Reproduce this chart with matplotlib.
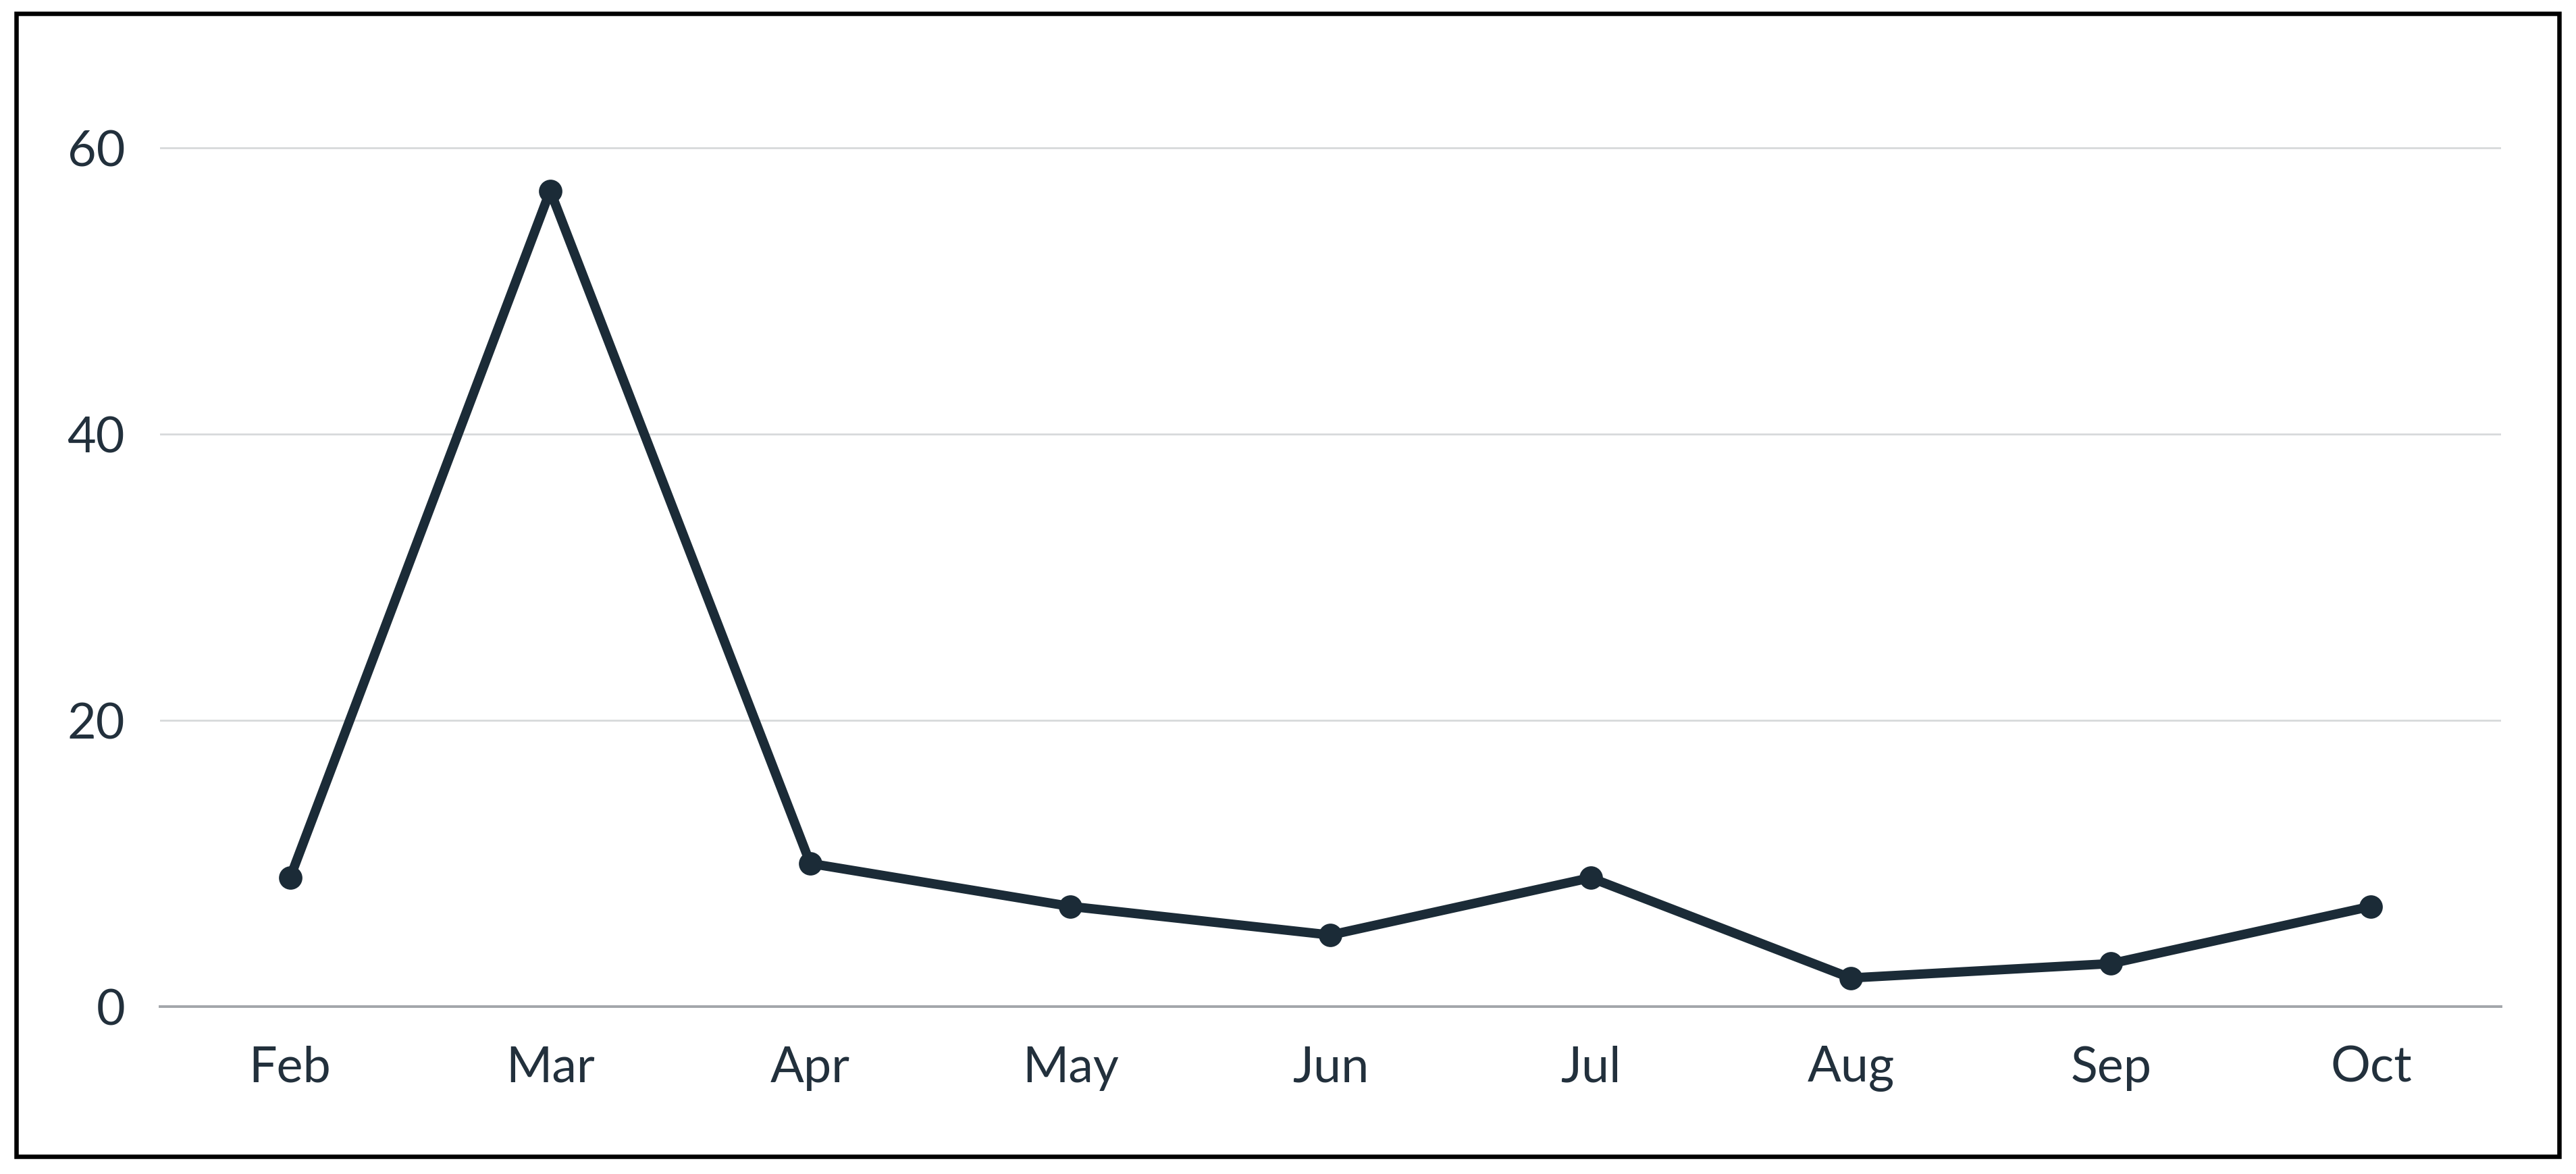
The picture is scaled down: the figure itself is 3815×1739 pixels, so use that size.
import matplotlib
matplotlib.use('Agg')
import matplotlib.pyplot as plt
import matplotlib.patches as patches

months = ['Feb', 'Mar', 'Apr', 'May', 'Jun', 'Jul', 'Aug', 'Sep', 'Oct']
counts = [9, 57, 10, 7, 5, 9, 2, 3, 7]
y_ticks = [0, 20, 40, 60]

plt.rcParams['font.family'] = ['Lato', 'DejaVu Sans']
line_col = '#1b2b37'
text_col = '#22303c'

fig = plt.figure(figsize=(19.08, 8.7), dpi=200)
W, H = 3816, 1740
# axes placed in pixels: x 237..3704, y0 at 1492, 21.2 px per unit
y_top = 66
ax = fig.add_axes([237 / W, (H - 1492) / H, (3704 - 237) / W, (y_top * 21.2) / H])

x = list(range(len(months)))
ax.plot(x, counts, color=line_col, lw=5.0, marker='o', markersize=11.5,
        solid_joinstyle='round', solid_capstyle='round', zorder=3, clip_on=False)

ax.set_xlim(-0.5, 8.5)
ax.set_ylim(0, y_top)
ax.set_xticks(x)
ax.set_xticklabels(months)
ax.set_yticks(y_ticks)

for s in ['top', 'right', 'left']:
    ax.spines[s].set_visible(False)
ax.spines['bottom'].set_color('#a2a6aa')
ax.spines['bottom'].set_linewidth(1.4)

ax.grid(axis='y', color='#d7d9db', lw=1.0, zorder=0)
ax.set_axisbelow(True)
ax.tick_params(axis='both', length=0, labelsize=26.5, colors=text_col)
ax.tick_params(axis='x', pad=20.5)
ax.tick_params(axis='y', pad=18.7)

# black frame around the whole picture
frame = patches.Rectangle((24 / W, (H - 1714) / H), (3790 - 24) / W, (1714 - 20.5) / H,
                          transform=fig.transFigure, fill=False, edgecolor='black',
                          linewidth=2.35, zorder=10)
fig.patches.append(frame)

fig.savefig('out.png', dpi=200, facecolor='white')
